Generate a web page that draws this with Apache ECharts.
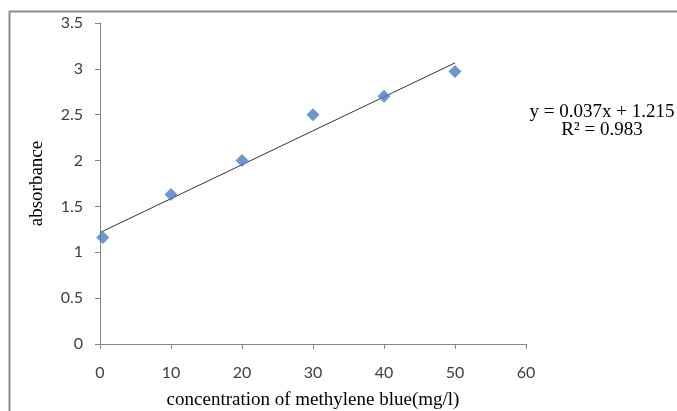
<!DOCTYPE html>
<html>
<head>
<meta charset="utf-8">
<script src="https://cdn.jsdelivr.net/npm/echarts@6/dist/echarts.min.js"></script>
<style>
  html, body { margin: 0; padding: 0; background: #fff; }
  #main { width: 677px; height: 411px; }
</style>
</head>
<body>
<div id="main"></div>
<script>
// measured points (concentration mg/l, absorbance)
const concentration = [0.4, 10, 20, 30, 40, 50];
const absorbance = [1.16, 1.63, 2.0, 2.5, 2.7, 2.97];
// linear trendline from the chart label
const slope = 0.037;
const intercept = 1.215;
const trendRange = [0, 50];

const chart = echarts.init(document.getElementById('main'));

const points = concentration.map((c, i) => [c, absorbance[i]]);
const trend = trendRange.map(x => [x, slope * x + intercept]);

const axisGray = '#868686';
const labelFont = { fontFamily: 'Lato, "Open Sans", sans-serif', fontSize: 16, color: '#404040' };
const serif = 'Liberation Serif, "Times New Roman", serif';

chart.setOption({
  animation: false,
  backgroundColor: '#fff',
  grid: { left: 100, right: 151, top: 23, bottom: 67, outerBoundsMode: 'none', containLabel: false },
  xAxis: {
    type: 'value',
    min: 0, max: 60, interval: 10,
    name: 'concentration of methylene blue(mg/l)',
    nameLocation: 'middle',
    nameGap: 47,
    nameTextStyle: { fontFamily: serif, fontSize: 19, color: '#000' },
    axisLine: { lineStyle: { color: axisGray } },
    axisTick: { inside: false, length: 5, lineStyle: { color: axisGray } },
    axisLabel: Object.assign({ margin: 21 }, labelFont),
    splitLine: { show: false }
  },
  yAxis: {
    type: 'value',
    min: 0, max: 3.5, interval: 0.5,
    name: 'absorbance',
    nameLocation: 'middle',
    nameGap: 53,
    nameRotate: 90,
    nameTextStyle: { fontFamily: serif, fontSize: 19, color: '#000' },
    axisLine: { show: true, lineStyle: { color: axisGray } },
    axisTick: { show: true, length: 5, lineStyle: { color: axisGray } },
    axisLabel: Object.assign({ margin: 17 }, labelFont),
    splitLine: { show: false }
  },
  series: [
    {
      type: 'line',
      data: trend,
      symbol: 'none',
      lineStyle: { color: '#333', width: 1 },
      z: 1
    },
    {
      type: 'scatter',
      data: points,
      symbol: 'diamond',
      symbolSize: [13, 13],
      itemStyle: { color: '#4a7ebb' },
      z: 2
    }
  ],
  graphic: [
    { type: 'line', shape: { x1: 9.5, y1: 11, x2: 9.5, y2: 411 }, style: { stroke: '#8c8c8c', lineWidth: 2 } },
    { type: 'line', shape: { x1: 9, y1: 11.5, x2: 677, y2: 11.5 }, style: { stroke: '#8c8c8c', lineWidth: 2 } },
    {
      type: 'text', x: 602, y: 103,
      style: {
        text: 'y = 0.037x + 1.215\nR² = 0.983',
        font: '19px ' + serif,
        fill: '#000',
        align: 'center',
        verticalAlign: 'top',
        lineHeight: 18
      }
    }
  ]
});
</script>
</body>
</html>
